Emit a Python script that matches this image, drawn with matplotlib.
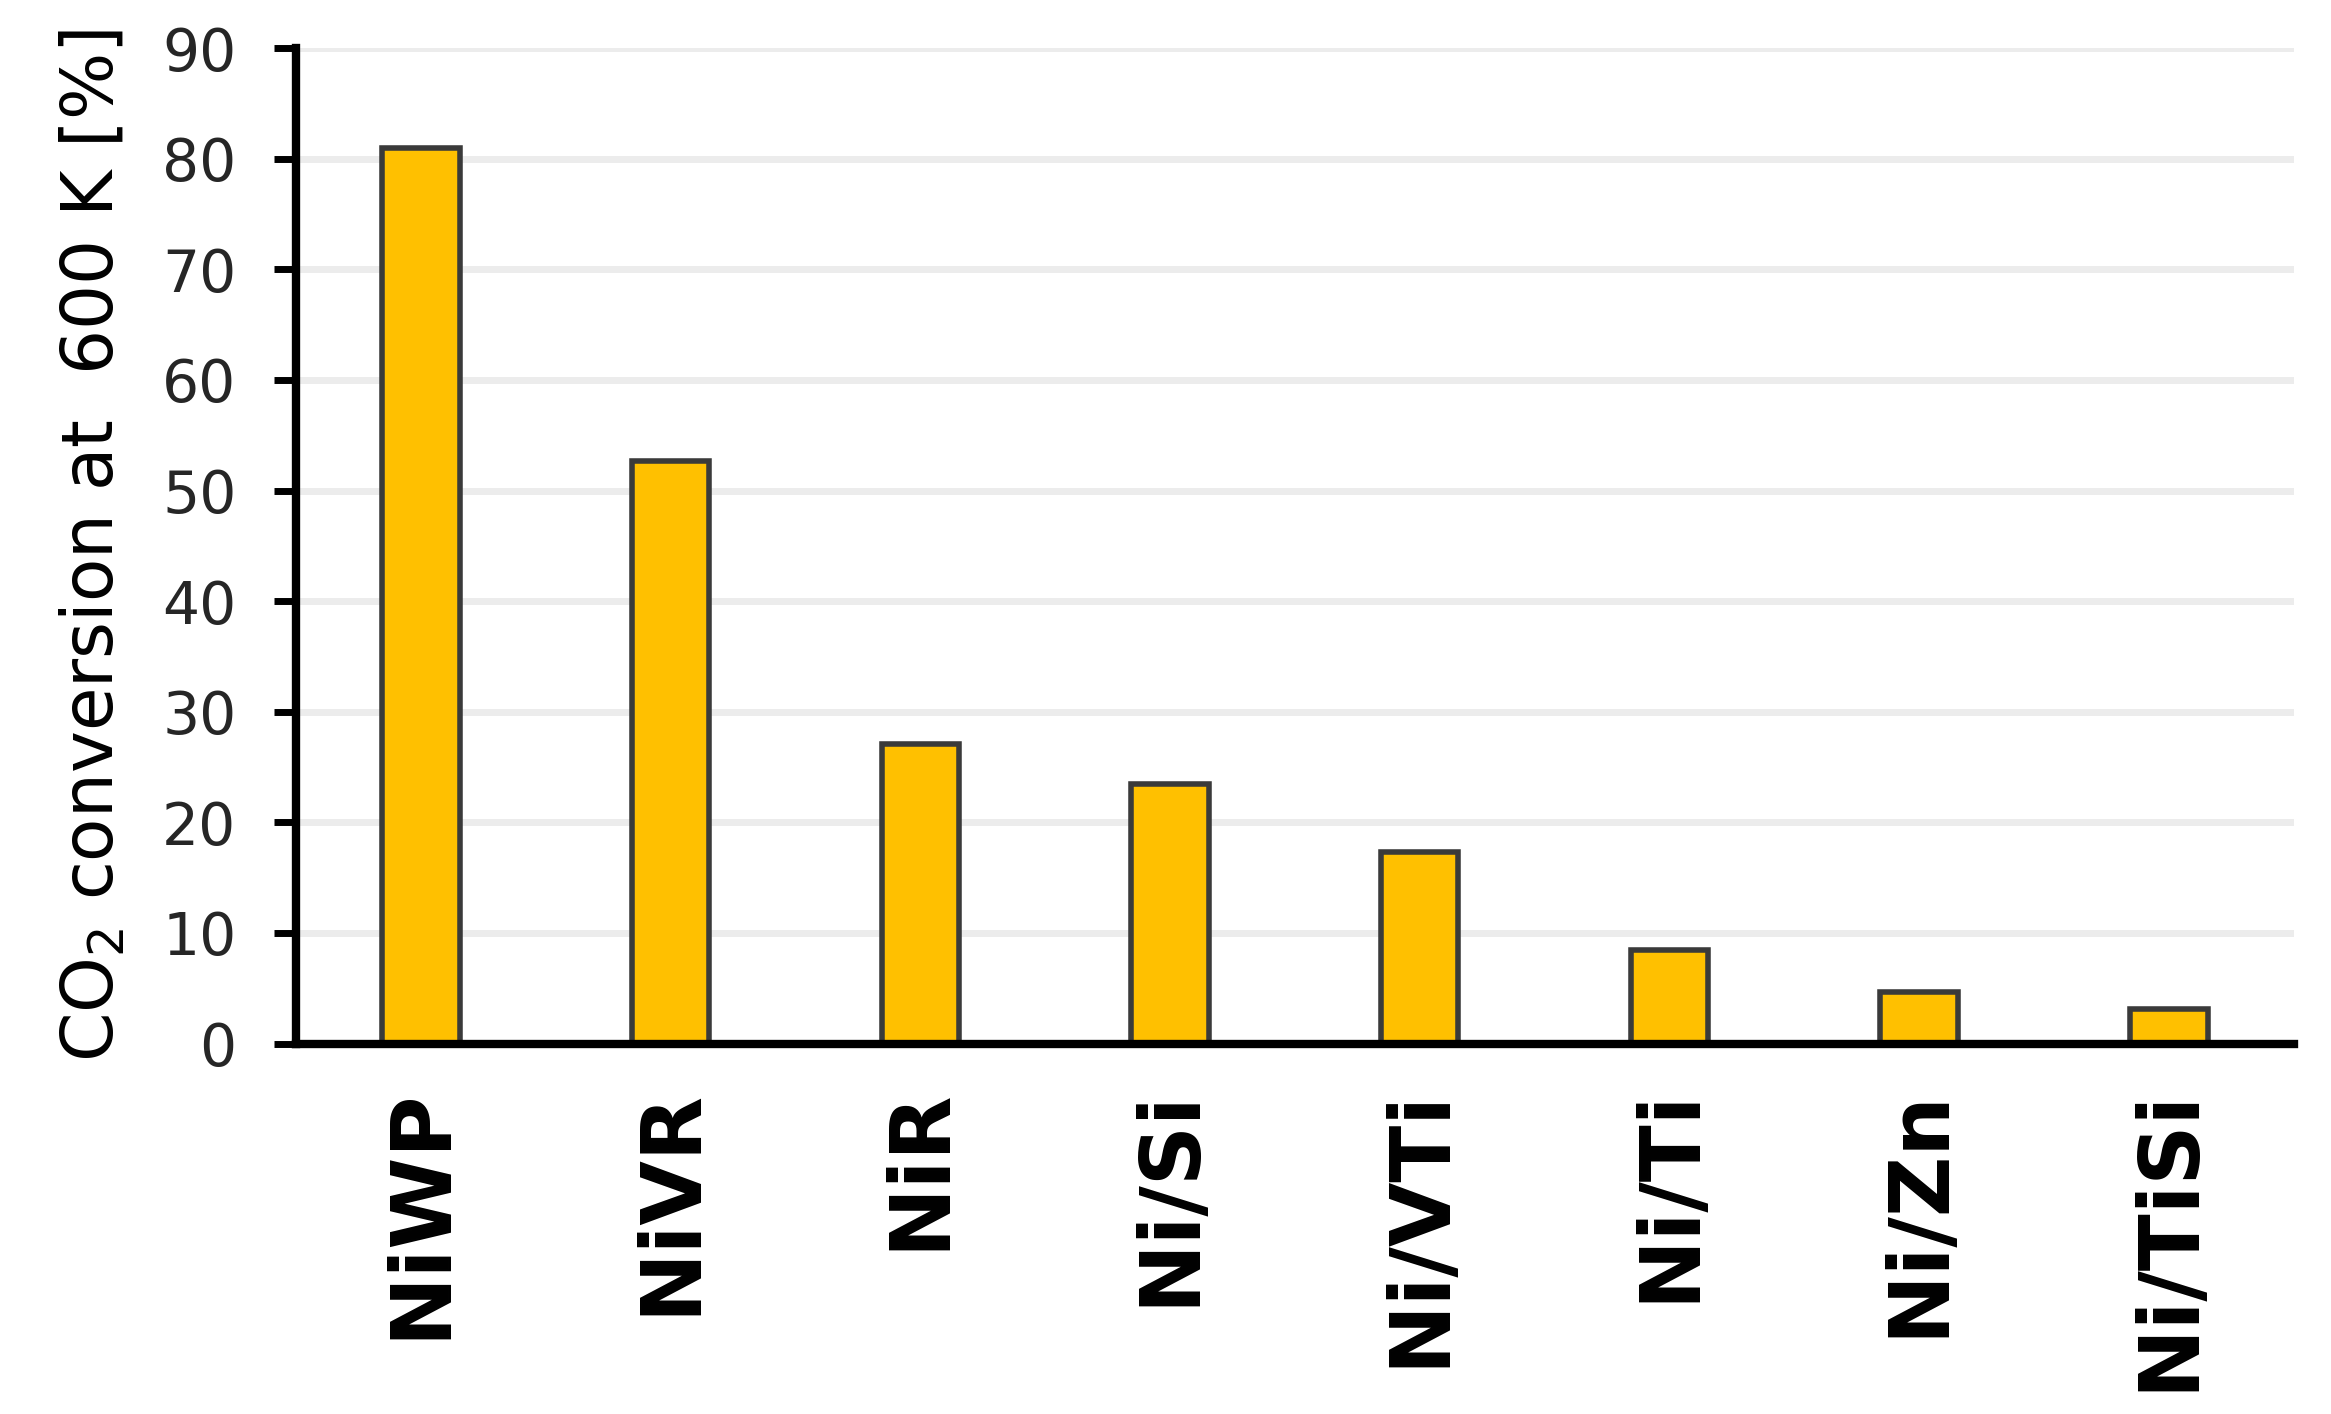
import numpy as np
import matplotlib
matplotlib.use('Agg')
import matplotlib.pyplot as plt

# catalysts and CO2 conversion at 600 K
catalysts = ['NiWP', 'NiVR', 'NiR', 'Ni/Si', 'Ni/VTi', 'Ni/Ti', 'Ni/Zn', 'Ni/TiSi']
conversion = [81.0, 52.7, 27.1, 23.5, 17.3, 8.5, 4.7, 3.1]
yticks = [0, 10, 20, 30, 40, 50, 60, 70, 80, 90]

plt.rcParams['font.family'] = ['DejaVu Sans']

fig = plt.figure(figsize=(23.31, 14.14), dpi=100)
ax = fig.add_axes([0.127, 0.262, 0.857, 0.704])

x = np.arange(len(catalysts))
ax.bar(x, conversion, width=0.31, color='#FFC000', edgecolor='#3a3a3a',
       linewidth=4, zorder=3)

ax.set_xlim(-0.5, len(catalysts) - 0.5)
ax.set_ylim(0, 90)
ax.set_yticks(yticks)
ax.yaxis.grid(True, color='#ececec', linewidth=5, zorder=0)
ax.set_axisbelow(True)

ax.set_xticks(x)
ax.set_xticklabels(catalysts, rotation=90, fontsize=60, fontweight='bold')
ax.tick_params(axis='x', length=0, pad=32)
ax.tick_params(axis='y', length=16, width=5, direction='out', labelsize=42,
               pad=27, labelcolor='#262626')

for s in ['top', 'right']:
    ax.spines[s].set_visible(False)
ax.spines['left'].set_linewidth(6)
ax.spines['bottom'].set_linewidth(6)
ax.spines['left'].set_zorder(4)
ax.spines['bottom'].set_zorder(4)

ax.set_ylabel('CO$_2$ conversion at  600 K [%]', fontsize=51, labelpad=24)

fig.savefig('out.png', dpi=100)
